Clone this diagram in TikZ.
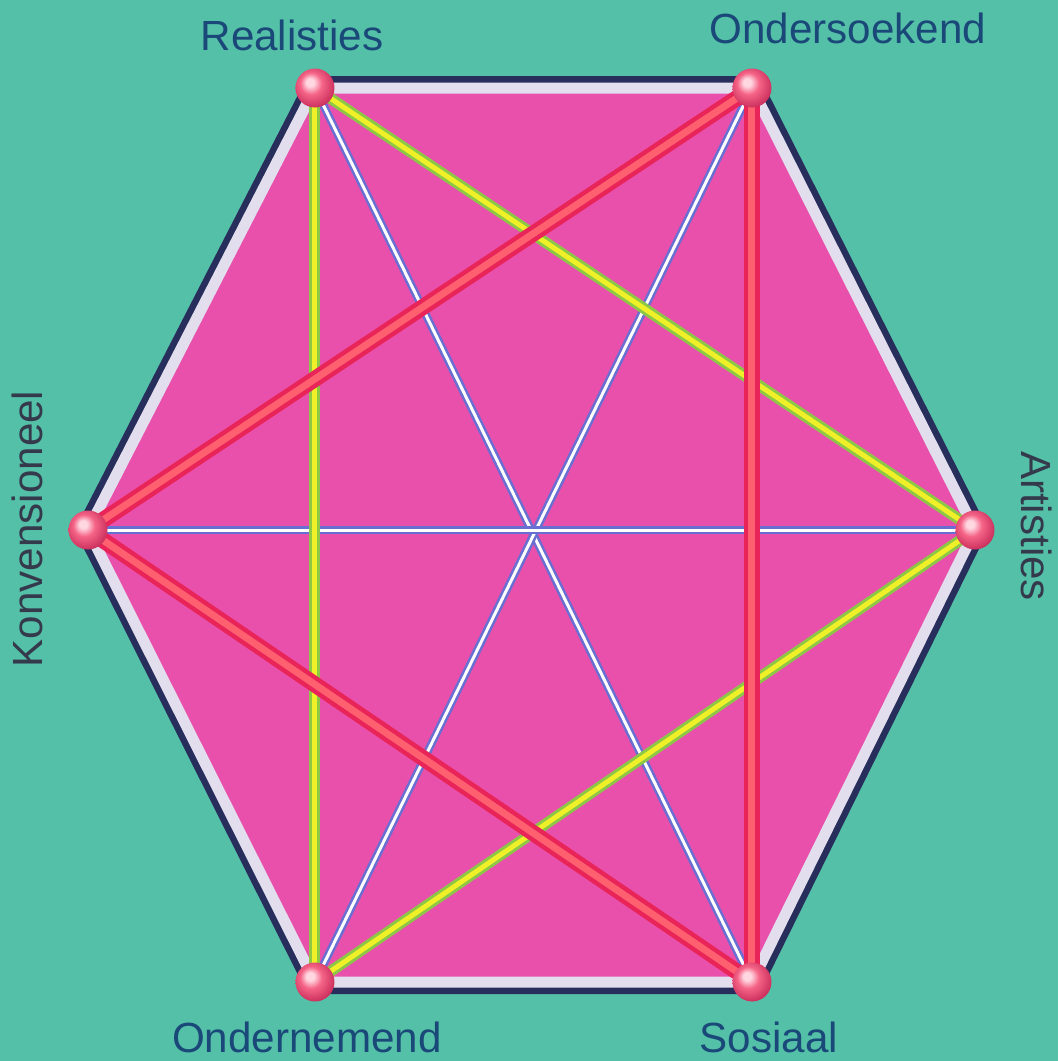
\documentclass[tikz,border=0pt]{standalone}
\usepackage{fontspec}
\setmainfont{Liberation Sans}
\usepackage{xcolor}
\usepackage{tikz}
\definecolor{sea}{RGB}{84,192,168}
\definecolor{hexfill}{RGB}{232,80,172}
\definecolor{rimdark}{RGB}{40,46,92}
\definecolor{rimlight}{RGB}{226,222,238}
\definecolor{lblblue}{RGB}{26,72,120}
\definecolor{lblgrey}{RGB}{52,58,76}
\definecolor{redouter}{RGB}{232,36,88}
\definecolor{redinner}{RGB}{255,96,112}
\definecolor{ylwouter}{RGB}{140,200,70}
\definecolor{ylwinner}{RGB}{240,240,40}
\definecolor{bluouter}{RGB}{104,110,210}
\definecolor{ballhi}{RGB}{255,215,225}
\definecolor{ballpink}{RGB}{245,100,135}
\definecolor{balledge}{RGB}{205,50,95}
\pgfdeclareradialshading{pinkball}{\pgfqpoint{-7bp}{8bp}}{%
  color(0bp)=(ballhi); color(5bp)=(ballhi); color(14bp)=(ballpink);
  color(28bp)=(balledge); color(50bp)=(balledge)}

\begin{document}
\begin{tikzpicture}[
    lbl/.style={font=\fontsize{12}{14}\selectfont, text=lblblue, inner sep=0pt},
    vertex/.style={circle, shading=pinkball, minimum size=0.39cm, inner sep=0pt},
    redlink/.style={line width=0.16cm, redouter},
    redcore/.style={line width=0.07cm, redinner},
    ylwlink/.style={line width=0.11cm, ylwouter},
    ylwcore/.style={line width=0.05cm, ylwinner},
    blulink/.style={line width=0.08cm, bluouter},
    blucore/.style={line width=0.03cm, white}
]
\fill[sea] (0,0) rectangle (10.58,10.61);
\useasboundingbox (0,0) rectangle (10.58,10.61);

% hexagon corners
\coordinate (R) at (3.15, 9.73);
\coordinate (I) at (7.52, 9.73);
\coordinate (A) at (9.75, 5.31);
\coordinate (S) at (7.52, 0.79);
\coordinate (E) at (3.15, 0.79);
\coordinate (C) at (0.88, 5.31);

% rim and face
\draw[line width=0.24cm, rimdark, line join=miter] (R) -- (I) -- (A) -- (S) -- (E) -- (C) -- cycle;
\fill[hexfill] (R) -- (I) -- (A) -- (S) -- (E) -- (C) -- cycle;
\draw[line width=0.11cm, rimlight, line join=miter] (R) -- (I) -- (A) -- (S) -- (E) -- (C) -- cycle;

% thin diagonals
\foreach \a/\b in {R/S, I/E, C/A} {
  \draw[blulink] (\a) -- (\b);
  \draw[blucore] (\a) -- (\b);
}
% yellow triangle
\foreach \a/\b in {R/A, A/E, E/R} {
  \draw[ylwlink] (\a) -- (\b);
  \draw[ylwcore] (\a) -- (\b);
}
% red triangle
\foreach \a/\b in {I/C, C/S, S/I} {
  \draw[redlink] (\a) -- (\b);
  \draw[redcore] (\a) -- (\b);
}

% balls
\foreach \v in {R, I, A, S, E, C}
  \node[vertex] (ball\v) at (\v) {};

% labels
\node[lbl, anchor=base] (labR) at (2.92, 10.11) {Realisties};
\node[lbl, anchor=base] (labI) at (8.48, 10.18) {Ondersoekend};
\node[lbl, anchor=base, text=lblgrey, rotate=-90] (labA) at (10.22, 5.35) {Artisties};
\node[lbl, anchor=base] (labS) at (7.69, 0.09) {Sosiaal};
\node[lbl, anchor=base] (labE) at (3.07, 0.09) {Ondernemend};
\node[lbl, anchor=base, text=lblgrey, rotate=90] (labC) at (0.43, 5.32) {Konvensioneel};
\end{tikzpicture}
\end{document}
